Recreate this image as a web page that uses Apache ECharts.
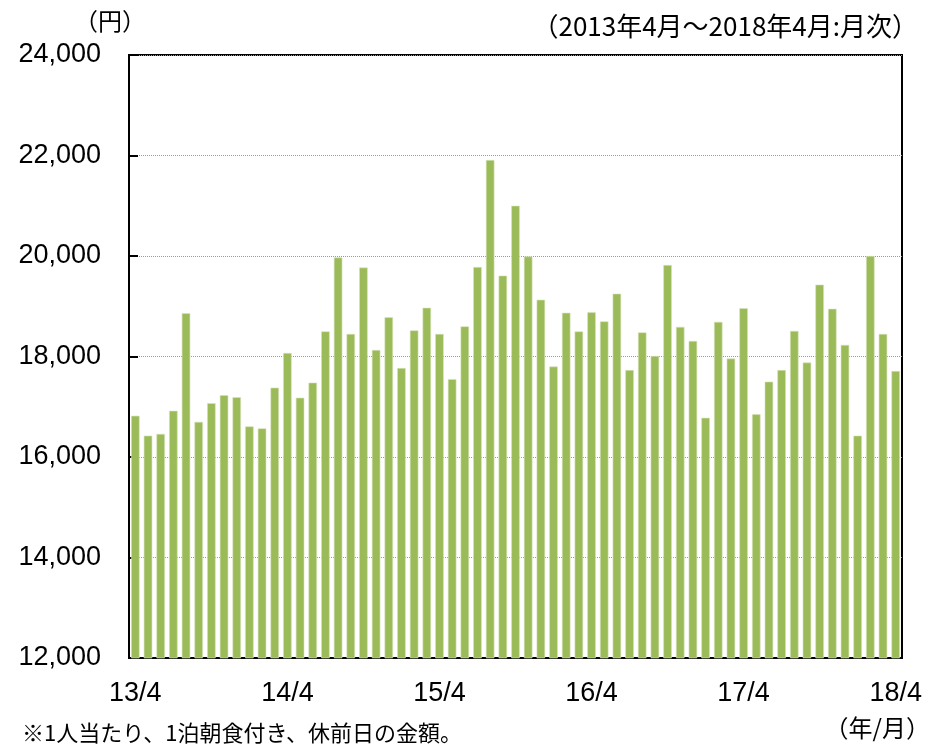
<!DOCTYPE html>
<html>
<head>
<meta charset="utf-8">
<script src="https://cdn.jsdelivr.net/npm/echarts@6/dist/echarts.min.js"></script>
<style>
  html, body { margin: 0; padding: 0; background: #fff; }
  #main { width: 930px; height: 746px; }
</style>
</head>
<body>
<div id="main"></div>
<script>
// months 2013/4 .. 2018/4
const months = [];
for (let y = 13; y <= 18; y++) {
  for (let m = 1; m <= 12; m++) {
    if ((y === 13 && m < 4) || (y === 18 && m > 4)) continue;
    months.push(y + '/' + m);
  }
}

// 1泊朝食付き 休前日 (円)
const prices = [
  16820, 16425, 16460, 16920, 18860, 16700, 17070, 17230, 17190, 16610, 16570, 17380,
  18070, 17180, 17480, 18500, 19970, 18450, 19770, 18130, 18780, 17770, 18520, 18970,
  18450, 17550, 18600, 19780, 21910, 19610, 21000, 19990, 19130, 17800, 18870, 18500,
  18880, 18700, 19250, 17730, 18480, 18010, 19820, 18590, 18310, 16780, 18690, 17960,
  18960, 16850, 17500, 17730, 18510, 17880, 19430, 18950, 18230, 16425, 20000, 18450,
  17710
];

const yTicks = [12000, 24000, 2000];

const numFont = 'Liberation Sans';
const jpFont = '"Noto Sans CJK JP"';

var myChart = echarts.init(document.getElementById('main'));
var option = {
  animation: false,
  grid: {
    left: 129, right: 28, top: 55, bottom: 88,
    show: true, borderColor: '#000', borderWidth: 2
  },
  xAxis: {
    type: 'category',
    data: months,
    axisLine: { lineStyle: { color: '#000', width: 2 } },
    axisTick: { inside: true, interval: 11, length: 8, lineStyle: { color: '#000', width: 1.5 } },
    axisLabel: {
      interval: 11, margin: 22,
      fontFamily: numFont, fontSize: 27, color: '#000'
    }
  },
  yAxis: {
    type: 'value',
    min: yTicks[0], max: yTicks[1], interval: yTicks[2],
    axisLine: { show: true, lineStyle: { color: '#000', width: 2 } },
    axisTick: { show: true, inside: true, length: 9, lineStyle: { color: '#000', width: 2 } },
    axisLabel: {
      margin: 28, fontFamily: numFont, fontSize: 27, color: '#000',
      formatter: v => v.toLocaleString('en-US')
    },
    splitLine: { lineStyle: { color: '#999', type: 'dotted', width: 1 } }
  },
  series: [{
    type: 'bar',
    data: prices,
    barCategoryGap: '33%',
    itemStyle: { color: '#9BBB59', borderColor: '#d6e3bc', borderWidth: 0.6 }
  }],
  graphic: [
    { type: 'text', left: 74, top: 9, style: { text: '（円）', font: '24px ' + jpFont, fill: '#000' } },
    { type: 'text', right: 12, top: 13, style: { text: '（2013年4月～2018年4月:月次）', font: '26px ' + jpFont, fill: '#000' } },
    { type: 'text', left: 22, top: 722, style: { text: '※1人当たり、1泊朝食付き、休前日の金額。', font: '22px ' + jpFont, fill: '#000' } },
    { type: 'text', right: 0, top: 716, style: { text: '（年/月）', font: '24px ' + jpFont, fill: '#000' } }
  ]
};
myChart.setOption(option);
</script>
</body>
</html>
